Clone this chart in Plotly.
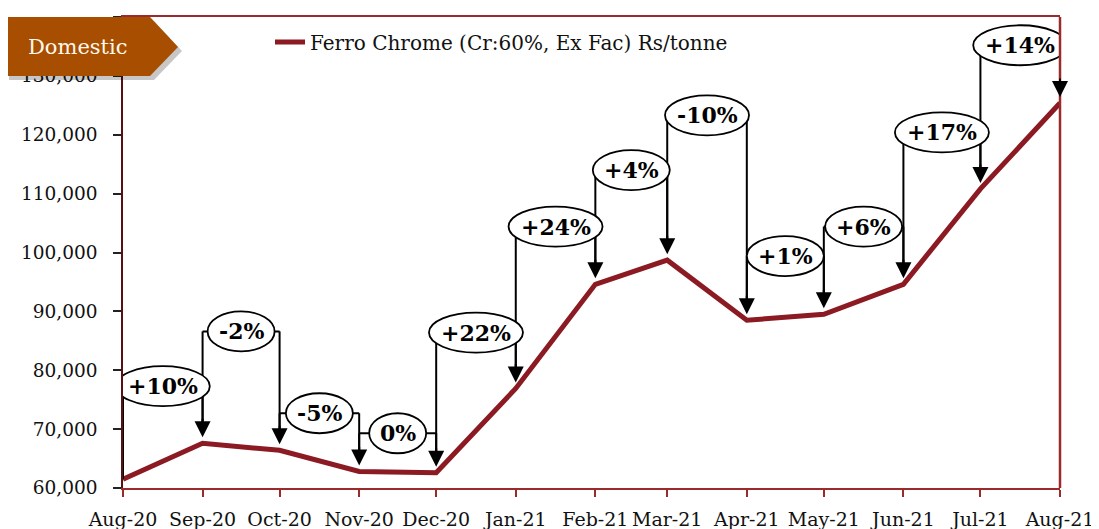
import plotly.graph_objects as go
import pandas as pd

# ---------------- data ----------------
months = ["2020-08-01", "2020-09-01", "2020-10-01", "2020-11-01", "2020-12-01",
          "2021-01-01", "2021-02-01", "2021-03-01", "2021-04-01", "2021-05-01",
          "2021-06-01", "2021-07-01", "2021-08-01"]
month_labels = ["Aug-20", "Sep-20", "Oct-20", "Nov-20", "Dec-20", "Jan-21", "Feb-21",
                "Mar-21", "Apr-21", "May-21", "Jun-21", "Jul-21", "Aug-21"]
price = [61500, 67600, 66400, 62800, 62600, 76900, 94600, 98700, 88500, 89500,
         94600, 110800, 125400]
change_labels = ["+10%", "-2%", "-5%", "0%", "+22%", "+24%", "+4%", "-10%", "+1%",
                 "+6%", "+17%", "+14%"]
series_name = "Ferro Chrome (Cr:60%, Ex Fac) Rs/tonne"
y_ticks = [60000, 70000, 80000, 90000, 100000, 110000, 120000, 130000, 140000]

# ---------------- layout constants ----------------
OFF = 8  # page body margin of the browser
W, H = 1099 - OFF, 529 - OFF
PL, PR, PT, PB = 123, 1060, 17, 488   # plot area in screenshot pixels
L, T = PL - OFF, PT - OFF
R, B = W - (PR - OFF), H - (PB - OFF)
YMIN, YMAX = 60000, 140000
UPP = (YMAX - YMIN) / (PB - PT)  # data units per pixel (y)
# heights at which the change bubbles sit (layout positions)
bubble_y = [77300, 86600, 72700, 69300, 86400, 104400, 114000, 123300, 99400,
            104400, 120400, 135200]

LINE_RED = "#8B1A22"
BORDER_RED = "#9B2A2A"
FONT = "Georgia, 'DejaVu Serif', serif"


def px(x):
    return (x - PL) / (PR - PL)


def py(y):
    return (PB - y) / (PB - PT)


char_w = {"+": 20, "-": 10, "%": 24}


def bubble_width(s):
    return 16 + sum(char_w.get(c, 17) for c in s)


fig = go.Figure()
fig.add_trace(go.Scatter(
    x=months, y=price, mode="lines", name=series_name,
    line=dict(color=LINE_RED, width=5),
))

shapes = []
annotations = []
dates = pd.to_datetime(months)

# bracket lines
for i, lab in enumerate(change_labels):
    x0, x1 = months[i], months[i + 1]
    yb = bubble_y[i]
    y_start = price[i] if i == 0 else price[i] + 14 * UPP
    ln = dict(type="line", xref="x", yref="y", line=dict(color="black", width=2), layer="above")
    shapes.append(dict(ln, x0=x0, x1=x0, y0=y_start, y1=yb))
    shapes.append(dict(ln, x0=x0, x1=x1, y0=yb, y1=yb))
    shapes.append(dict(ln, x0=x1, x1=x1, y0=yb, y1=price[i + 1] + 14 * UPP))

# bubbles
for i, lab in enumerate(change_labels):
    mid = dates[i] + (dates[i + 1] - dates[i]) / 2
    mid_s = mid.strftime("%Y-%m-%d %H:%M:%S")
    w = bubble_width(lab)
    shapes.append(dict(type="circle", xref="x", yref="y", xsizemode="pixel", ysizemode="pixel",
                       xanchor=mid_s, yanchor=bubble_y[i], x0=-w / 2, x1=w / 2, y0=-20, y1=20,
                       line=dict(color="black", width=1.8), fillcolor="white", layer="above"))
    annotations.append(dict(x=mid_s, y=bubble_y[i], xref="x", yref="y", text="<b>%s</b>" % lab,
                            xanchor="center", yanchor="middle",
                            showarrow=False, font=dict(family=FONT, size=22, color="black")))
    # arrowhead
    annotations.append(dict(x=months[i + 1], y=price[i + 1], xref="x", yref="y", text="",
                            showarrow=True, arrowhead=2, arrowsize=1.6, arrowwidth=2,
                            arrowcolor="black", ax=0, ay=-26, standoff=6))

# plot border: right side
shapes.append(dict(type="line", xref="paper", yref="paper", x0=1, x1=1, y0=0, y1=1,
                   line=dict(color=BORDER_RED, width=2.5), layer="above"))

# "Domestic" badge with shadow
def badge_path(dx, dy):
    pts = [(5, 17), (150, 17), (178, 47), (150, 76), (5, 76)]
    return "M " + " L ".join("%f,%f" % (px(x + dx), py(y + dy)) for x, y in pts) + " Z"

shapes.append(dict(type="path", xref="paper", yref="paper", path=badge_path(4, 4),
                   fillcolor="rgba(0,0,0,0.22)", line=dict(width=0), layer="above"))
shapes.append(dict(type="path", xref="paper", yref="paper", path=badge_path(0, 0),
                   fillcolor="#A84E00", line=dict(width=0), layer="above"))
annotations.append(dict(x=px(78), y=py(47), xref="paper", yref="paper", text="Domestic",
                        xanchor="center", yanchor="middle",
                        showarrow=False, font=dict(family=FONT, size=21, color="#FFF8EE")))

fig.update_layout(
    width=W, height=H,
    margin=dict(l=L, r=R, t=T, b=B, pad=0, autoexpand=False),
    paper_bgcolor="white", plot_bgcolor="white",
    showlegend=True,
    legend=dict(x=px(270), y=py(42), xanchor="left", yanchor="middle",
                bgcolor="rgba(0,0,0,0)", font=dict(family=FONT, size=20, color="#111")),
    shapes=shapes, annotations=annotations,
    xaxis=dict(type="date", range=[months[0], months[-1]], tickvals=months, ticktext=month_labels,
               showgrid=False, zeroline=False, showline=True, linecolor=BORDER_RED, linewidth=2,
               mirror=True, ticks="outside", ticklen=7, tickwidth=2, tickcolor=BORDER_RED,
               tickfont=dict(family=FONT, size=19, color="#111"), ticklabelstandoff=6,
               automargin=False),
    yaxis=dict(range=[YMIN, YMAX], tickvals=y_ticks, tickformat=",d",
               showgrid=False, zeroline=False, showline=True, linecolor="#5a1010", linewidth=1.5,
               ticks="outside", ticklen=8, tickwidth=1.5, tickcolor="#222",
               tickfont=dict(family=FONT, size=18.5, color="#111"), ticklabelstandoff=12,
               automargin=False),
)

fig.write_html("out.html")
